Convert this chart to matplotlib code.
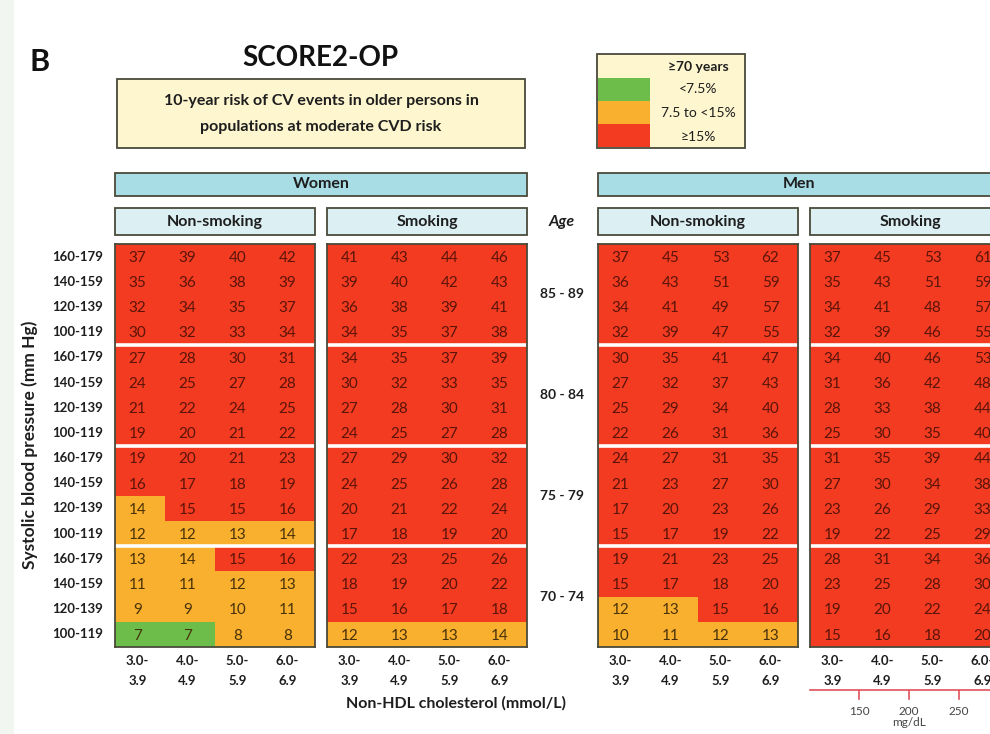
import matplotlib
matplotlib.use("Agg")
import matplotlib.pyplot as plt
import matplotlib.patches as mpatches
from matplotlib.colors import ListedColormap, BoundaryNorm
import numpy as np

plt.rcParams['font.family'] = ['Lato', 'DejaVu Sans']

# ---- data (rows top to bottom: age group, then SBP 160-179 ... 100-119) ----
ages = ['85 - 89', '80 - 84', '75 - 79', '70 - 74']
sbp_labels = ['160-179', '140-159', '120-139', '100-119']
chol_top = ['3.0-', '4.0-', '5.0-', '6.0-']
chol_bottom = ['3.9', '4.9', '5.9', '6.9']

women_nonsmoking = [
    [37, 39, 40, 42], [35, 36, 38, 39], [32, 34, 35, 37], [30, 32, 33, 34],
    [27, 28, 30, 31], [24, 25, 27, 28], [21, 22, 24, 25], [19, 20, 21, 22],
    [19, 20, 21, 23], [16, 17, 18, 19], [14, 15, 15, 16], [12, 12, 13, 14],
    [13, 14, 15, 16], [11, 11, 12, 13], [9, 9, 10, 11], [7, 7, 8, 8]]
women_smoking = [
    [41, 43, 44, 46], [39, 40, 42, 43], [36, 38, 39, 41], [34, 35, 37, 38],
    [34, 35, 37, 39], [30, 32, 33, 35], [27, 28, 30, 31], [24, 25, 27, 28],
    [27, 29, 30, 32], [24, 25, 26, 28], [20, 21, 22, 24], [17, 18, 19, 20],
    [22, 23, 25, 26], [18, 19, 20, 22], [15, 16, 17, 18], [12, 13, 13, 14]]
men_nonsmoking = [
    [37, 45, 53, 62], [36, 43, 51, 59], [34, 41, 49, 57], [32, 39, 47, 55],
    [30, 35, 41, 47], [27, 32, 37, 43], [25, 29, 34, 40], [22, 26, 31, 36],
    [24, 27, 31, 35], [21, 23, 27, 30], [17, 20, 23, 26], [15, 17, 19, 22],
    [19, 21, 23, 25], [15, 17, 18, 20], [12, 13, 15, 16], [10, 11, 12, 13]]
men_smoking = [
    [37, 45, 53, 61], [35, 43, 51, 59], [34, 41, 48, 57], [32, 39, 46, 55],
    [34, 40, 46, 53], [31, 36, 42, 48], [28, 33, 38, 44], [25, 30, 35, 40],
    [31, 35, 39, 44], [27, 30, 34, 38], [23, 26, 29, 33], [19, 22, 25, 29],
    [28, 31, 34, 36], [23, 25, 28, 30], [19, 20, 22, 24], [15, 16, 18, 20]]

mgdl_ticks = [150, 200, 250]

# ---- styling ----
W, H = 990, 734
GREEN, ORANGE, RED = '#6cbd4a', '#f9b02f', '#f33b22'
cmap = ListedColormap([GREEN, ORANGE, RED])
norm = BoundaryNorm([0, 7.5, 15, 100], 3)
EDGE = '#4a4a3a'
TXT = '#1e1e1e'

fig = plt.figure(figsize=(W / 100, H / 100), dpi=100)
fig.patch.set_facecolor('white')


def fx(x):
    return x / W


def fy(y):
    return 1 - y / H


def box(x0, y0, x1, y1, fc, lw=1.3, ec=EDGE):
    fig.patches.append(mpatches.Rectangle((fx(x0), fy(y1)), fx(x1 - x0), (y1 - y0) / H,
                                          transform=fig.transFigure, fc=fc, ec=ec, lw=lw))


def txt(x, y, s, **kw):
    kw.setdefault('ha', 'center')
    kw.setdefault('va', 'center')
    kw.setdefault('color', TXT)
    fig.text(fx(x), fy(y), s, **kw)


# light background strip at the left edge
box(0, 0, 14, H, '#f2f6f1', lw=0, ec='none')

# ---- title area ----
txt(40, 62, 'B', fontsize=22, fontweight='bold', color='#111111')
txt(320, 58, 'SCORE2-OP', fontsize=20, fontweight='bold', color='#111111')
box(117, 79, 525, 148, '#fdf6cf')
txt(321, 101, '10-year risk of CV events in older persons in', fontsize=11.5, fontweight='bold')
txt(321, 127, 'populations at moderate CVD risk', fontsize=11.5, fontweight='bold')

# ---- legend ----
box(597, 54, 745, 148, '#fdf6cf')
for (y0, y1, c) in [(78, 101, GREEN), (101, 124, ORANGE), (124, 147, RED)]:
    box(598, y0, 650, y1, c, lw=0, ec='none')
txt(698, 67, '≥70 years', fontsize=10, fontweight='bold')
txt(698, 89, '<7.5%', fontsize=10)
txt(698, 113, '7.5 to <15%', fontsize=10)
txt(698, 137, '≥15%', fontsize=10)

# ---- headers ----
box(115, 173, 527, 196, '#a9dde6')
txt(321, 184.5, 'Women', fontsize=11.5, fontweight='bold')
box(598, 173, 1000, 196, '#a9dde6')
txt(799, 184.5, 'Men', fontsize=11.5, fontweight='bold')

panels = [(115, women_nonsmoking, 'Non-smoking'), (327, women_smoking, 'Smoking'),
          (598, men_nonsmoking, 'Non-smoking'), (810, men_smoking, 'Smoking')]
PW = 200
TOP, BOT = 244, 647

for x0, vals, lab in panels:
    box(x0, 208, x0 + PW, 235, '#dcf0f4')
    txt(x0 + PW / 2, 222, lab, fontsize=11.5, fontweight='bold')

    arr = np.array(vals, dtype=float)
    ax = fig.add_axes([fx(x0), fy(BOT), fx(PW), (BOT - TOP) / H])
    ax.pcolormesh(arr, cmap=cmap, norm=norm)
    ax.set_xlim(0, 4)
    ax.set_ylim(16, 0)
    for r in range(16):
        for c in range(4):
            v = arr[r, c]
            col = '#5a1408' if v >= 15 else '#4a3208'
            ax.text(c + 0.45, r + 0.55, '%d' % v, ha='center', va='center',
                    fontsize=11, color=col)
    for g in (4, 8, 12):
        ax.axhline(g, color='white', lw=2.6, clip_on=False, xmin=-0.02, xmax=1.02)
    ax.set_xticks([])
    ax.set_yticks([])
    for s in ax.spines.values():
        s.set_color(EDGE)
        s.set_linewidth(1.3)

    # cholesterol labels
    for c in range(4):
        cx = x0 + (c + 0.45) * PW / 4
        txt(cx, 661, chol_top[c], fontsize=9.5, fontweight='bold')
        txt(cx, 681, chol_bottom[c], fontsize=9.5, fontweight='bold')

# ---- row labels ----
row_h = (BOT - TOP) / 16
for r in range(16):
    txt(103, TOP + (r + 0.5) * row_h, sbp_labels[r % 4], fontsize=9.5,
        fontweight='bold', ha='right')
txt(30, 445, 'Systolic blood pressure (mm Hg)', fontsize=12.5, fontweight='bold', rotation=90)

txt(562, 222, 'Age', fontsize=11.5, fontweight='bold', style='italic')
for i, a in enumerate(ages):
    txt(562, TOP + (4 * i + 2) * row_h, a, fontsize=10, fontweight='bold')

txt(456, 703, 'Non-HDL cholesterol (mmol/L)', fontsize=11.5, fontweight='bold')

# ---- mg/dL scale ----
sax = fig.add_axes([fx(810), fy(735), fx(200), (735 - 690) / H])
sax.set_xlim(101, 301)
sax.set_ylim(0, 1)
sax.plot([101, 282], [1, 1], color='#e0505a', lw=1.2, clip_on=False)
for t in mgdl_ticks:
    sax.plot([t, t], [1, 0.8], color='#e0505a', lw=1.2)
    sax.text(t, 0.52, str(t), ha='center', va='center', fontsize=8.5, color='#444444')
sax.text(200, 0.27, 'mg/dL', ha='center', va='center', fontsize=8.5, color='#444444')
sax.axis('off')

fig.savefig('out.png', dpi=100)
